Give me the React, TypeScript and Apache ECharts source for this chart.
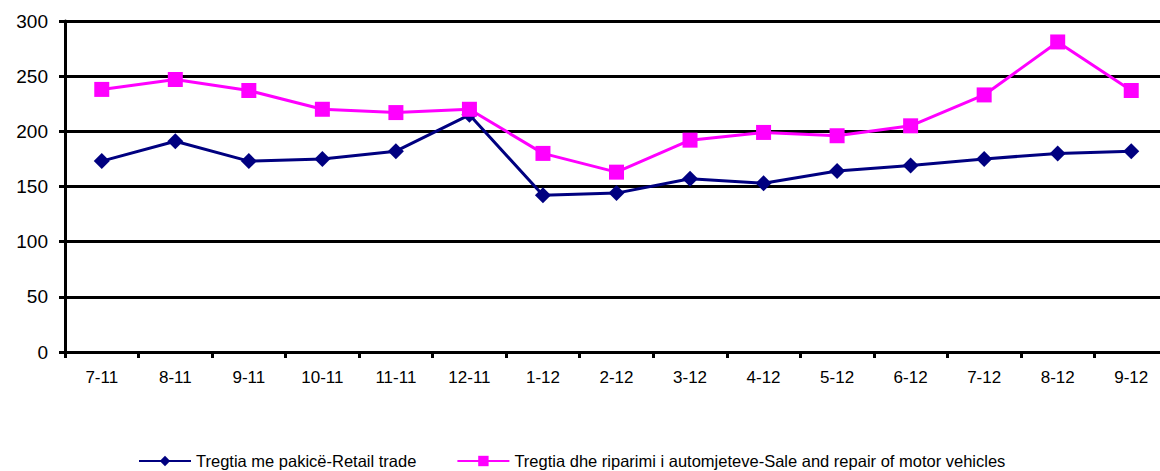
import React, { useEffect, useRef } from "react";
import * as echarts from "echarts";

const categories = ["7-11", "8-11", "9-11", "10-11", "11-11", "12-11", "1-12", "2-12", "3-12", "4-12", "5-12", "6-12", "7-12", "8-12", "9-12"];
const retailName = "Tregtia me pakicë-Retail trade";
const retail = [173, 191, 173, 175, 182, 215, 142, 144, 157, 153, 164, 169, 175, 180, 182];
const motorName = "Tregtia dhe riparimi i automjeteve-Sale and repair of motor vehicles";
const motor = [238, 247, 237, 220, 217, 220, 180, 163, 192, 199, 196, 205, 233, 281, 237];

export default function App() {
  const ref = useRef<HTMLDivElement>(null);
  useEffect(() => {
    const chart = echarts.init(ref.current!, null, { renderer: "svg" });
    chart.setOption({
      animation: false,
      backgroundColor: "#ffffff",
      grid: { left: 65, right: 0, top: 21, bottom: 119, containLabel: false },
      legend: {
        top: 452,
        left: 138,
        padding: 0,
        itemWidth: 52,
        itemHeight: 13,
        itemGap: 40,
        textStyle: { fontFamily: "Arial, 'Liberation Sans', sans-serif", fontSize: 16.5, color: "#000", lineHeight: 18 },
        data: [retailName, motorName],
      },
      xAxis: {
        type: "category",
        data: categories,
        boundaryGap: true,
        axisLine: { lineStyle: { color: "#000", width: 3 } },
        axisTick: { show: true, length: 6, lineStyle: { color: "#000", width: 3 }, alignWithLabel: false },
        axisLabel: { color: "#000", fontFamily: "Arial, 'Liberation Sans', sans-serif", fontSize: 17, margin: 17 },
        splitLine: { show: false },
      },
      yAxis: {
        type: "value",
        min: 0,
        max: 300,
        interval: 50,
        axisLine: { show: true, lineStyle: { color: "#000", width: 3 } },
        axisTick: { show: true, length: 6, lineStyle: { color: "#000", width: 3 } },
        axisLabel: { color: "#000", fontFamily: "Arial, 'Liberation Sans', sans-serif", fontSize: 19, margin: 17 },
        splitLine: { show: true, lineStyle: { color: "#000", width: 3 } },
      },
      series: [
        {
          name: retailName,
          type: "line",
          data: retail,
          symbol: "diamond",
          symbolSize: 16,
          itemStyle: { color: "#000080" },
          lineStyle: { color: "#000080", width: 3 },
        },
        {
          name: motorName,
          type: "line",
          data: motor,
          symbol: "rect",
          symbolSize: 15,
          itemStyle: { color: "#ff00ff" },
          lineStyle: { color: "#ff00ff", width: 3 },
        },
      ],
    });
    return () => chart.dispose();
  }, []);
  return (
    <div style={{ width: 1160, height: 471, position: "absolute", left: 0, top: 0, overflow: "hidden", background: "#fff" }}>
      <div ref={ref} style={{ width: 1168, height: 471 }} />
    </div>
  );
}
